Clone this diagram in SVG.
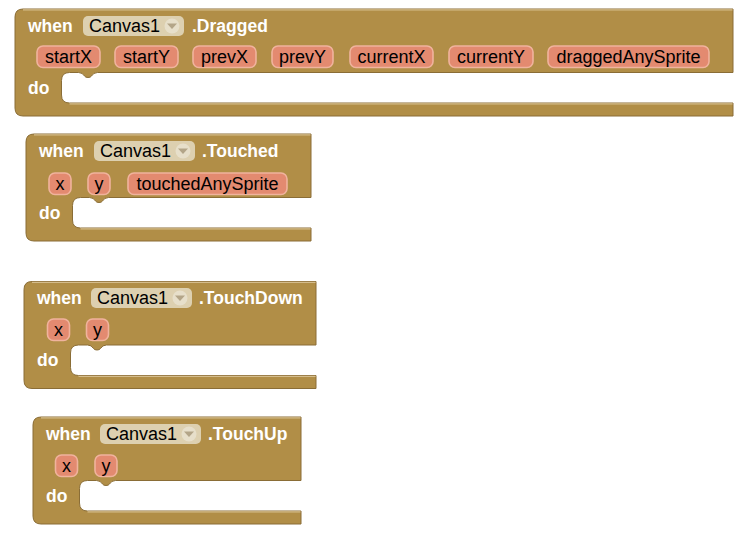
<svg xmlns="http://www.w3.org/2000/svg" width="749" height="541" viewBox="0 0 749 541">
<style>
.blk{fill:#b18e47;stroke:#8a6d36;stroke-width:1;stroke-linejoin:round}
.hl{fill:none;stroke:#d5bd8c;stroke-width:1.2}
.dd{fill:#ddd0b0}
.arc{fill:#e7dfca}
.tri{fill:#b3a588}
.pill{fill:#e38a70;stroke:#f0b39d;stroke-width:1.6}
.kw{font-family:"Liberation Sans",Arial,sans-serif;font-size:17.5px;font-weight:bold;fill:#ffffff}
.tx{font-family:"Liberation Sans",Arial,sans-serif;font-size:18px;fill:#000000}
.pt{font-family:"Liberation Sans",Arial,sans-serif;font-size:18px;fill:#000000;text-anchor:middle}
</style>
<rect width="749" height="541" fill="#ffffff"/>
<g id="connectors"/>

<g id="dragged">
<path class="blk" d="M23,9 H733 V72.5 H97.5 Q93.5,72.5 91.5,76 Q90.5,77.5 88,77.5 Q85.5,77.5 84.5,76 Q82.5,72.5 78.5,72.5 H69.5 Q61.5,72.5 61.5,80.5 V95 Q61.5,103 69.5,103 H733 V116 H23 Q15,116 15,108 V17 Q15,9 23,9 Z"/>
<path class="hl" d="M23,9.8 H732.5 M69.5,103.8 H732.5"/>
<text class="kw" x="28" y="31.5">when</text>
<rect class="dd" x="83" y="16" width="101" height="20" rx="5"/>
<text class="tx" x="89" y="31.5">Canvas1</text>
<circle class="arc" cx="172" cy="26" r="7.5"/>
<path class="tri" d="M167,23.5 H177 L172,29 Z"/>
<text class="kw" x="192" y="31.5">.Dragged</text>
<rect class="pill" x="37" y="46" width="63" height="21.5" rx="6"/>
<text class="pt" x="68.5" y="62.8">startX</text>
<rect class="pill" x="115" y="46" width="63" height="21.5" rx="6"/>
<text class="pt" x="146.5" y="62.8">startY</text>
<rect class="pill" x="193" y="46" width="63" height="21.5" rx="6"/>
<text class="pt" x="224.5" y="62.8">prevX</text>
<rect class="pill" x="272" y="46" width="61" height="21.5" rx="6"/>
<text class="pt" x="302.5" y="62.8">prevY</text>
<rect class="pill" x="350" y="46" width="83" height="21.5" rx="6"/>
<text class="pt" x="391.5" y="62.8">currentX</text>
<rect class="pill" x="449" y="46" width="84" height="21.5" rx="6"/>
<text class="pt" x="491" y="62.8">currentY</text>
<rect class="pill" x="548" y="46" width="161" height="21.5" rx="6"/>
<text class="pt" x="628.5" y="62.8">draggedAnySprite</text>
<text class="kw" x="28" y="93.5">do</text>
</g>

<g id="touched">
<path class="blk" d="M34,134 H311 V197.5 H108.5 Q104.5,197.5 102.5,201 Q101.5,202.5 99,202.5 Q96.5,202.5 95.5,201 Q93.5,197.5 89.5,197.5 H80.5 Q72.5,197.5 72.5,205.5 V220 Q72.5,228 80.5,228 H311 V241 H34 Q26,241 26,233 V142 Q26,134 34,134 Z"/>
<path class="hl" d="M34,134.8 H310.5 M80.5,228.8 H310.5"/>
<text class="kw" x="39" y="156.5">when</text>
<rect class="dd" x="94" y="141" width="101" height="20" rx="5"/>
<text class="tx" x="100" y="156.5">Canvas1</text>
<circle class="arc" cx="183" cy="151" r="7.5"/>
<path class="tri" d="M178,148.5 H188 L183,154 Z"/>
<text class="kw" x="202" y="156.5">.Touched</text>
<rect class="pill" x="49" y="173" width="22" height="21.5" rx="6"/>
<text class="pt" x="60" y="189.8">x</text>
<rect class="pill" x="88" y="173" width="22" height="21.5" rx="6"/>
<text class="pt" x="99" y="189.8">y</text>
<rect class="pill" x="128" y="173" width="159" height="21.5" rx="6"/>
<text class="pt" x="207.5" y="189.8">touchedAnySprite</text>
<text class="kw" x="39" y="219">do</text>
</g>

<g id="touchdown">
<path class="blk" d="M32,281.5 H316 V345 H106.5 Q102.5,345 100.5,348.5 Q99.5,350 97,350 Q94.5,350 93.5,348.5 Q91.5,345 87.5,345 H78.5 Q70.5,345 70.5,353 V367.5 Q70.5,375.5 78.5,375.5 H316 V388.5 H32 Q24,388.5 24,380.5 V289.5 Q24,281.5 32,281.5 Z"/>
<path class="hl" d="M32,282.3 H315.5 M78.5,376.3 H315.5"/>
<text class="kw" x="37" y="304">when</text>
<rect class="dd" x="91" y="288" width="101" height="20" rx="5"/>
<text class="tx" x="97" y="303.5">Canvas1</text>
<circle class="arc" cx="180" cy="298" r="7.5"/>
<path class="tri" d="M175,295.5 H185 L180,301 Z"/>
<text class="kw" x="199" y="304">.TouchDown</text>
<rect class="pill" x="47.5" y="319" width="22" height="21.5" rx="6"/>
<text class="pt" x="58.5" y="335.8">x</text>
<rect class="pill" x="86.5" y="319" width="22" height="21.5" rx="6"/>
<text class="pt" x="97.5" y="335.8">y</text>
<text class="kw" x="37" y="366">do</text>
</g>

<g id="touchup">
<path class="blk" d="M41,417 H301 V480.5 H115.5 Q111.5,480.5 109.5,484 Q108.5,485.5 106,485.5 Q103.5,485.5 102.5,484 Q100.5,480.5 96.5,480.5 H87.5 Q79.5,480.5 79.5,488.5 V503 Q79.5,511 87.5,511 H301 V524 H41 Q33,524 33,516 V425 Q33,417 41,417 Z"/>
<path class="hl" d="M41,417.8 H300.5 M87.5,511.8 H300.5"/>
<text class="kw" x="46" y="439.5">when</text>
<rect class="dd" x="100" y="424" width="101" height="20" rx="5"/>
<text class="tx" x="106" y="439.5">Canvas1</text>
<circle class="arc" cx="189" cy="434" r="7.5"/>
<path class="tri" d="M184,431.5 H194 L189,437 Z"/>
<text class="kw" x="208" y="439.5">.TouchUp</text>
<rect class="pill" x="55.5" y="455" width="22" height="21.5" rx="6"/>
<text class="pt" x="66.5" y="471.8">x</text>
<rect class="pill" x="95" y="455" width="22" height="21.5" rx="6"/>
<text class="pt" x="106" y="471.8">y</text>
<text class="kw" x="46" y="501.5">do</text>
</g>
</svg>
